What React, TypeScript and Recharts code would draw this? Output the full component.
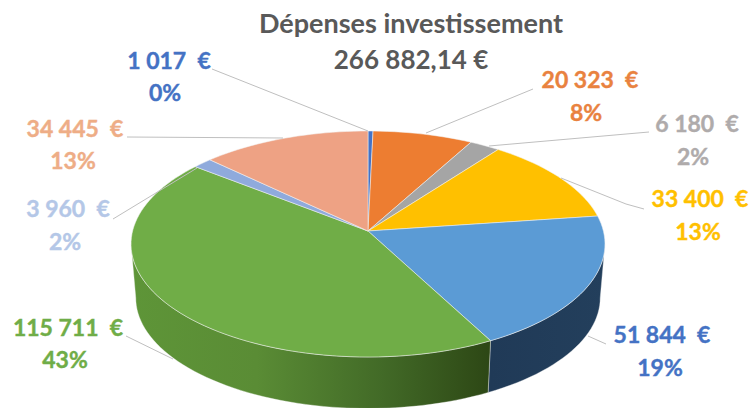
import { Pie, PieChart } from "recharts";

const titleLines = ["Dépenses investissement", "266 882,14 €"];

const values = [1017, 20323, 6180, 33400, 51844, 115711, 3960, 34445];
const amountLabels = ["1 017  €", "20 323  €", "6 180  €", "33 400  €", "51 844  €", "115 711  €", "3 960  €", "34 445  €"];
const percentLabels = ["0%", "8%", "2%", "13%", "19%", "43%", "2%", "13%"];
const sliceColors = ["#4472C4", "#ED7D31", "#A5A5A5", "#FFC000", "#5B9BD5", "#70AD47", "#8FAADC", "#EEA284"];
const wallColors = ["#284476", "#8C4A1D", "#636363", "#997300", "url(#wallBlue)", "url(#wallGreen)", "#5A6E92", "#A86E55"];
const labelColors = ["#4472C4", "#E9823F", "#AFABAB", "#FFC000", "#4472C4", "#70AD47", "#B4C7E7", "#EEAD86"];

const data = values.map((value, i) => ({ name: amountLabels[i], value, fill: sliceColors[i], wall: wallColors[i] }));

// where each label sits: [x1, baseline1, x2, baseline2]
const labelSpots = [
  [169, 69, 165, 101],
  [590, 88, 586, 121],
  [697, 132, 693, 165],
  [700, 207, 698, 240],
  [662, 343, 660, 376],
  [68, 336, 65, 368],
  [68, 217, 65, 250],
  [75, 137, 73, 169],
];
const leaderLines = [
  "212,69 368,131",
  "533,89 426,133",
  "649,132 489,146",
  "561,178 626,204 644,209",
  "606,344 588,336",
  "126,336 173,359",
  "113,219 197,168",
  "127,137 283,138",
];

const CX = 368;
const CY = 231;
const RX = 235.4;
const RY = 111.5;
const TILT = 0.115; // perspective, the far side of the disc is smaller
const DEPTH = 54;
const BOTTOM_SCALE = 0.98;
const RIM_FROM = 96.6; // angles where the disc outline turns, the rim is seen between them
const RIM_TO = 263.4;

// a = degrees clockwise from the top of the disc
function project(a: number, bottom = false) {
  const rad = (a * Math.PI) / 180;
  const u = Math.sin(rad);
  const v = Math.cos(rad);
  const w = 1 + TILT * v;
  const s = bottom ? BOTTOM_SCALE : 1;
  return [CX + (RX * s * u) / w, CY + (bottom ? DEPTH : 0) - (RY * s * v) / w];
}

function arcPoints(from: number, to: number, bottom = false) {
  const steps = Math.max(2, Math.ceil(Math.abs(to - from) / 2));
  const pts = [];
  for (let i = 0; i <= steps; i++) {
    const p = project(from + ((to - from) * i) / steps, bottom);
    pts.push(`${p[0].toFixed(2)},${p[1].toFixed(2)}`);
  }
  return pts;
}

function TopSlice(props: any) {
  const from = 90 - props.startAngle;
  const to = 90 - props.endAngle;
  const d = `M${CX},${CY} L${arcPoints(from, to).join(" L")} Z`;
  return <path d={d} fill={props.fill} stroke="#f4f4f4" strokeOpacity={0.75} strokeWidth={0.7} strokeLinejoin="round" />;
}

function WallSlice(props: any) {
  const from = Math.max(90 - props.startAngle, RIM_FROM);
  const to = Math.min(90 - props.endAngle, RIM_TO);
  if (to <= from) return null;
  const top = arcPoints(from, to);
  const bottom = arcPoints(to, from, true);
  const d = `M${top.join(" L")} L${bottom.join(" L")} Z`;
  return <path d={d} fill={props.wall} stroke="#f4f4f4" strokeOpacity={0.6} strokeWidth={0.6} />;
}

function SliceLabel(props: any) {
  const i = props.index;
  const [x1, y1, x2, y2] = labelSpots[i];
  const textStyle = { fontFamily: "Lato", fontWeight: 700, fontSize: 23 };
  return (
    <g>
      <polyline points={leaderLines[i]} fill="none" stroke="#BFBFBF" strokeWidth={1} />
      <text x={x1} y={y1} textAnchor="middle" fill={labelColors[i]} stroke={labelColors[i]} strokeWidth={0.4} style={{ ...textStyle, whiteSpace: "pre" }}>
        {amountLabels[i]}
      </text>
      <text x={x2} y={y2} textAnchor="middle" fill={labelColors[i]} stroke={labelColors[i]} strokeWidth={0.4} style={textStyle}>
        {percentLabels[i]}
      </text>
    </g>
  );
}

export default function App() {
  return (
    <div style={{ position: "absolute", left: 0, top: 0, width: 752, height: 408, background: "#fff", overflow: "hidden" }}>
      <PieChart width={752} height={408} margin={{ top: 0, right: 0, bottom: 0, left: 0 }}>
        <defs>
          <linearGradient id="wallGreen" gradientUnits="userSpaceOnUse" x1="131" y1="0" x2="490" y2="0">
            <stop offset="0%" stopColor="#5E9538" />
            <stop offset="35%" stopColor="#5A8C35" />
            <stop offset="70%" stopColor="#426A27" />
            <stop offset="100%" stopColor="#2D4715" />
          </linearGradient>
          <linearGradient id="wallBlue" gradientUnits="userSpaceOnUse" x1="490" y1="0" x2="605" y2="0">
            <stop offset="0%" stopColor="#203A57" />
            <stop offset="100%" stopColor="#233F5C" />
          </linearGradient>
        </defs>
        <Pie
          data={data}
          dataKey="value"
          cx={CX}
          cy={CY}
          outerRadius={100}
          startAngle={90}
          endAngle={-270}
          stroke="none"
          shape={WallSlice}
          isAnimationActive={false}
        />
        <Pie
          data={data}
          dataKey="value"
          cx={CX}
          cy={CY}
          outerRadius={100}
          startAngle={90}
          endAngle={-270}
          stroke="none"
          shape={TopSlice}
          label={SliceLabel}
          labelLine={false}
          isAnimationActive={false}
        />
        <text x={411} y={33} textAnchor="middle" fill="#595959" style={{ fontFamily: "Lato", fontWeight: 700, fontSize: 27 }}>
          {titleLines[0]}
        </text>
        <text x={411} y={69} textAnchor="middle" fill="#595959" style={{ fontFamily: "Lato", fontWeight: 700, fontSize: 26 }}>
          {titleLines[1]}
        </text>
      </PieChart>
    </div>
  );
}
